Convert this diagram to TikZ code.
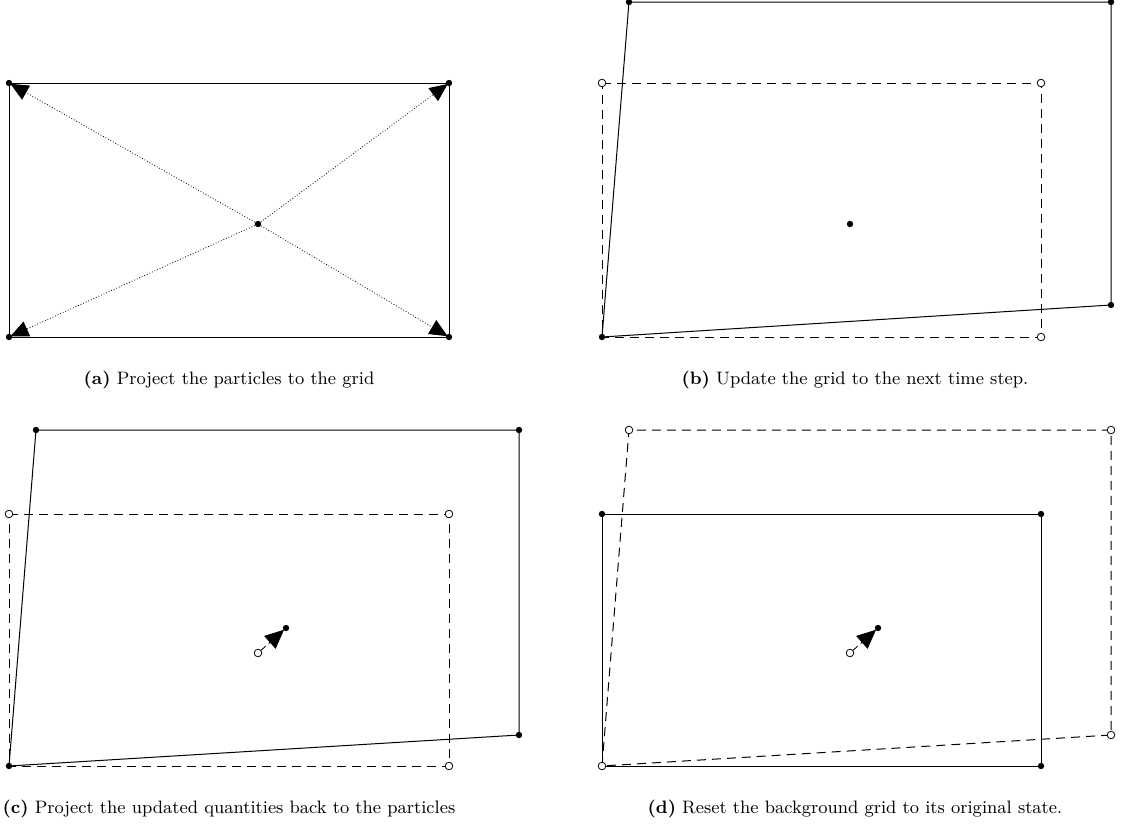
\documentclass[tikz,border=0pt]{standalone}
\usetikzlibrary{arrows.meta}
\tikzset{
  dot/.style={circle,fill=black,inner sep=0pt,minimum size=3.2pt},
  odot/.style={circle,draw=black,fill=white,line width=0.4pt,inner sep=0pt,minimum size=3.8pt},
  solidedge/.style={line width=0.5pt},
  dashededge/.style={line width=0.5pt,dash pattern=on 4.5pt off 3pt},
  proj/.style={line width=0.4pt,densely dotted,-{Triangle[length=9pt,width=8pt]},shorten >=-1pt},
  move/.style={line width=0.4pt,densely dashed,-{Triangle[length=9.5pt,width=8.5pt]},shorten >=-0.5pt},
  captext/.style={font=\small,anchor=base,inner sep=0pt}
}
\begin{document}
\begin{tikzpicture}[x=0.5pt,y=-0.5pt]
\useasboundingbox (0,0) rectangle (1121,836);
% ---------- (a)
\node[dot] (a1) at (9,83) {};
\node[dot] (a2) at (449,83) {};
\node[dot] (a3) at (449,337) {};
\node[dot] (a4) at (9,337) {};
\node[dot] (ac) at (258,224) {};
\draw[solidedge] (a1.center) -- (a2.center) -- (a3.center) -- (a4.center) -- cycle;
\draw[proj] (ac) -- (a1);
\draw[proj] (ac) -- (a2);
\draw[proj] (ac) -- (a3);
\draw[proj] (ac) -- (a4);
\node[captext] (capa) at (229,384) {\textbf{(a)} Project the particles to the grid};
% ---------- (b)
\draw[dashededge] (602,83) -- (1041,83) -- (1041,337) -- (602,337) -- cycle;
\node[odot] (b1) at (602,83) {};
\node[odot] (b2) at (1041,83) {};
\node[odot] (b3) at (1041,337) {};
\node[dot] (b4) at (602,337) {};
\node[dot] (b5) at (629,2) {};
\node[dot] (b6) at (1111,2) {};
\node[dot] (b7) at (1111,305) {};
\node[dot] (bc) at (850,224) {};
\draw[solidedge] (b4.center) -- (b5.center) -- (b6.center) -- (b7.center) -- cycle;
\node[captext] (capb) at (855,384) {\textbf{(b)} Update the grid to the next time step.};
% ---------- (c)
\draw[dashededge] (9,514) -- (449,514) -- (449,766) -- (9,766) -- cycle;
\node[odot] (c1) at (9,514) {};
\node[odot] (c2) at (449,514) {};
\node[odot] (c3) at (449,766) {};
\node[dot] (c4) at (9,766) {};
\node[dot] (c5) at (36,430) {};
\node[dot] (c6) at (519,430) {};
\node[dot] (c7) at (519,735) {};
\draw[solidedge] (c4.center) -- (c5.center) -- (c6.center) -- (c7.center) -- cycle;
\node[odot] (cp0) at (258,653) {};
\node[dot] (cp1) at (286,628) {};
\draw[move] (cp0) -- (cp1);
\node[captext] (capc) at (229,813) {\textbf{(c)} Project the updated quantities back to the particles};
% ---------- (d)
\draw[dashededge] (602,766) -- (629,430) -- (1111,430) -- (1111,735) -- cycle;
\node[odot] (d5) at (629,430) {};
\node[odot] (d6) at (1111,430) {};
\node[odot] (d7) at (1111,735) {};
\node[dot] (d1) at (602,514) {};
\node[dot] (d2) at (1041,514) {};
\node[dot] (d3) at (1041,766) {};
\draw[solidedge] (602,766) -- (d1.center) -- (d2.center) -- (d3.center) -- cycle;
\node[odot] (d4) at (602,766) {};
\node[odot] (dp0) at (850,653) {};
\node[dot] (dp1) at (878,628) {};
\draw[move] (dp0) -- (dp1);
\node[captext] (capd) at (855,813) {\textbf{(d)} Reset the background grid to its original state.};
\end{tikzpicture}
\end{document}
